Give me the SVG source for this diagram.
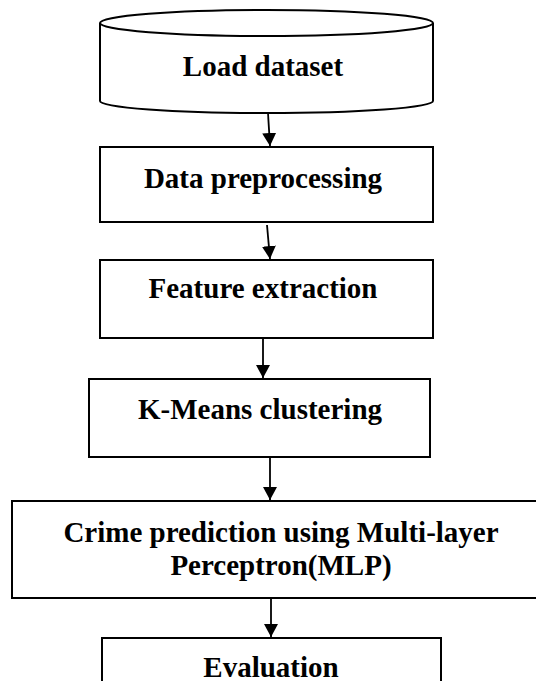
<svg xmlns="http://www.w3.org/2000/svg" width="536" height="681" viewBox="0 0 536 681">
  <defs>
    <marker id="arr" markerUnits="userSpaceOnUse" markerWidth="14" markerHeight="14" refX="13" refY="7" orient="auto">
      <path d="M0,0 L13,7 L0,14 z" fill="#000"/>
    </marker>
    <style>
      .box { fill: #fff; stroke: #000; stroke-width: 2; }
      .lbl { font-family: "Liberation Serif", "Times New Roman", serif; font-weight: bold; font-size: 29px; fill: #000; text-anchor: middle; }
      .edge { stroke: #000; stroke-width: 1.8; fill: none; marker-end: url(#arr); }
    </style>
  </defs>
  <rect width="536" height="681" fill="#fff"/>

  <g id="load-dataset">
    <path class="box" d="M100,23 L100,101 A166.5,12 0 0 0 433,101 L433,23"/>
    <ellipse class="box" cx="266.5" cy="23" rx="166.5" ry="13"/>
    <text class="lbl" x="263" y="76">Load dataset</text>
  </g>

  <g id="data-preprocessing">
    <rect class="box" x="100" y="147" width="333" height="75"/>
    <text class="lbl" x="263" y="188">Data preprocessing</text>
  </g>

  <g id="feature-extraction">
    <rect class="box" x="100" y="260" width="333" height="78"/>
    <text class="lbl" x="263" y="298">Feature extraction</text>
  </g>

  <g id="kmeans-clustering">
    <rect class="box" x="89" y="379" width="341" height="78"/>
    <text class="lbl" x="260" y="419">K-Means clustering</text>
  </g>

  <g id="crime-prediction">
    <rect class="box" x="12" y="501" width="540" height="97"/>
    <text class="lbl" x="281" y="542">Crime prediction using Multi-layer</text>
    <text class="lbl" x="281" y="575">Perceptron(MLP)</text>
  </g>

  <g id="evaluation">
    <rect class="box" x="102" y="638" width="339" height="80"/>
    <text class="lbl" x="271" y="677">Evaluation</text>
  </g>

  <g id="connectors">
    <line class="edge" x1="268" y1="113" x2="270" y2="146"/>
    <line class="edge" x1="267" y1="225" x2="270" y2="259"/>
    <line class="edge" x1="263" y1="338" x2="263" y2="378"/>
    <line class="edge" x1="270" y1="457" x2="270" y2="500"/>
    <line class="edge" x1="271" y1="598" x2="271" y2="637"/>
  </g>
</svg>
